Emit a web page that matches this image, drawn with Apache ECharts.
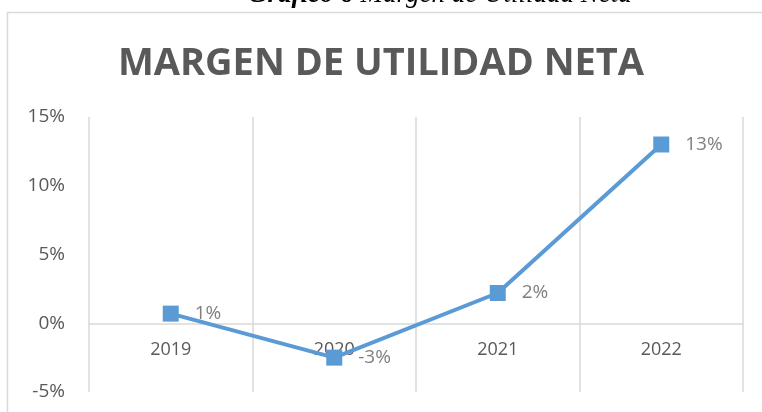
<!DOCTYPE html>
<html>
<head>
<meta charset="utf-8">
<script src="https://cdn.jsdelivr.net/npm/echarts@6/dist/echarts.min.js"></script>
<style>
html,body{margin:0;padding:0;background:#fff;}
#main{width:762px;height:412px;}
</style>
</head>
<body>
<div id="main"></div>
<script>
var captionBold = 'Gráfico 6 ';
var captionText = 'Margen de Utilidad Neta';
var chartTitle = 'MARGEN DE UTILIDAD NETA';
var categories = ['2019', '2020', '2021', '2022'];
var margenNeto = [0.7, -2.5, 2.2, 13.0];
var yMin = -5, yMax = 15, yStep = 5;

function pctRound(v) {
  return (v < 0 ? -1 : 1) * Math.round(Math.abs(v));
}

var gridTop = 117, gridBottom = 20, H = 412;
var plotH = H - gridTop - gridBottom;
var zeroOffset = -((0 - yMin) / (yMax - yMin)) * plotH;

var chart = echarts.init(document.getElementById('main'), null, {renderer: 'canvas'});
chart.setOption({
  animation: false,
  backgroundColor: '#ffffff',
  graphic: [
    {
      type: 'rect', z: -10, silent: true,
      shape: {x: 7.5, y: 12.5, width: 800, height: 450},
      style: {fill: 'none', stroke: '#d9d9d9', lineWidth: 1.5}
    },
    {
      type: 'text', z: 10, silent: true,
      style: {
        x: 248, y: -5,
        verticalAlign: 'middle',
        text: '{b|' + captionBold + '}{n|' + captionText + '}',
        rich: {
          b: {fontFamily: 'Liberation Serif', fontStyle: 'italic', fontWeight: 'bold', fontSize: 27, fill: '#000'},
          n: {fontFamily: 'Liberation Serif', fontStyle: 'italic', fontSize: 27, fill: '#000'}
        }
      }
    }
  ],
  title: {
    text: chartTitle,
    left: 'center',
    top: 40,
    textStyle: {fontFamily: 'Open Sans', fontWeight: 'bold', fontSize: 38, color: '#595959'}
  },
  grid: {left: 89, right: 19, top: gridTop, bottom: gridBottom, containLabel: false, outerBoundsMode: 'none'},
  xAxis: [{
    type: 'category',
    data: categories,
    boundaryGap: true,
    position: 'bottom',
    offset: zeroOffset,
    axisLine: {show: true, onZero: false, lineStyle: {color: '#d9d9d9', width: 1.5}},
    axisTick: {show: false},
    axisLabel: {color: '#595959', fontFamily: 'Open Sans', fontSize: 18, margin: 18},
    splitLine: {show: true, lineStyle: {color: '#d9d9d9', width: 1.5}}
  }],
  yAxis: {
    type: 'value',
    min: yMin, max: yMax, interval: yStep,
    axisLine: {show: false},
    axisTick: {show: false},
    splitLine: {show: false},
    axisLabel: {color: '#595959', fontFamily: 'Open Sans', fontSize: 19, margin: 24, formatter: '{value}%'}
  },
  series: [{
    type: 'line',
    data: margenNeto,
    symbol: 'rect',
    symbolSize: 16,
    lineStyle: {color: '#5b9bd5', width: 4},
    itemStyle: {color: '#5b9bd5'},
    label: {
      show: true, position: 'right', distance: 16,
      color: '#7f7f7f', fontFamily: 'Open Sans', fontSize: 19,
      formatter: function (p) { return pctRound(p.value) + '%'; }
    }
  }]
});
</script>
</body>
</html>
